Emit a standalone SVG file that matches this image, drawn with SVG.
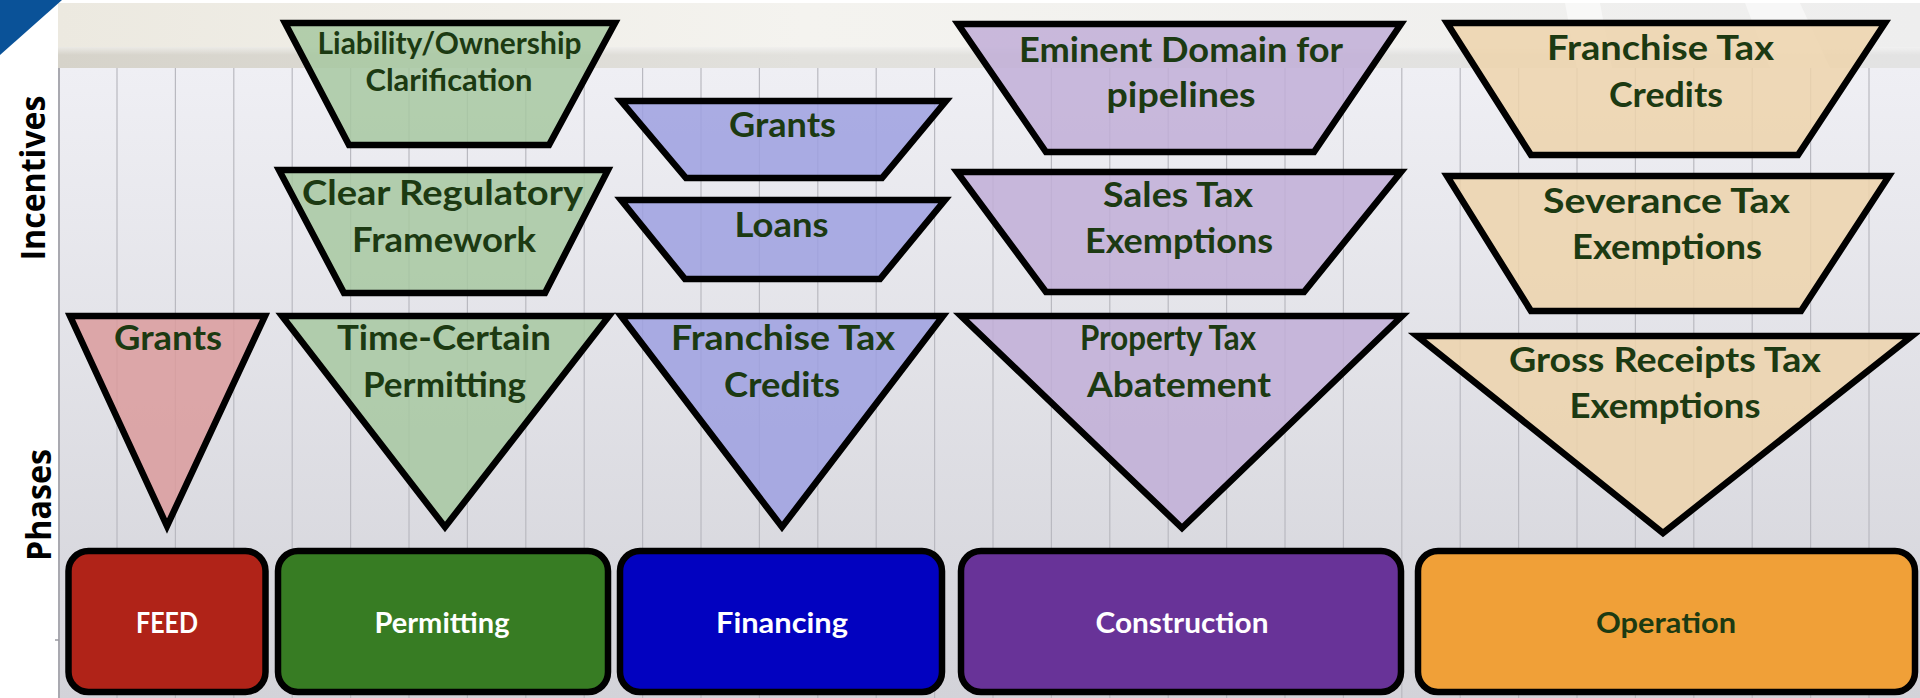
<svg xmlns="http://www.w3.org/2000/svg" width="1920" height="698" viewBox="0 0 1920 698">
  <defs>
    <linearGradient id="gridBg" x1="0" y1="0" x2="0" y2="1">
      <stop offset="0" stop-color="#efeff4"/>
      <stop offset="1" stop-color="#d3d3d9"/>
    </linearGradient>
    <linearGradient id="bandTop" x1="0" y1="0" x2="1" y2="0">
      <stop offset="0" stop-color="#ece9e0"/>
      <stop offset="0.4" stop-color="#f4f3ef"/>
      <stop offset="1" stop-color="#eeeeee"/>
    </linearGradient>
    <linearGradient id="bandStrip" x1="0" y1="0" x2="1" y2="0">
      <stop offset="0" stop-color="#d6d3ca"/>
      <stop offset="0.4" stop-color="#e2e1dd"/>
      <stop offset="1" stop-color="#e3e3e3"/>
    </linearGradient>
    <linearGradient id="stripFade" x1="0" y1="0" x2="0" y2="1">
      <stop offset="0" stop-color="#ffffff" stop-opacity="0.5"/>
      <stop offset="1" stop-color="#ffffff" stop-opacity="0"/>
    </linearGradient>
    <style>
      .grid line { stroke: #b9b9c0; stroke-width: 1.2; }
      .shape { stroke: #000; stroke-width: 6.5; stroke-linejoin: miter; fill-opacity: 0.85; }
      .phase { stroke: #000; stroke-width: 6.5; }
      .feed { fill: #db9b9c; }
      .perm { fill: #a7c8a1; }
      .fin { fill: #9da0e1; }
      .cons { fill: #c1aed7; }
      .oper { fill: #edd4ab; }
      .lbl { font-family: Lato, "Liberation Sans", sans-serif; font-weight: 700; fill: #1c3a12; text-anchor: middle; }
      .big { font-size: 35px; }
      .small { font-size: 31px; }
      .plbl { font-family: Lato, "Liberation Sans", sans-serif; font-weight: 700; font-size: 28px; fill: #ffffff; text-anchor: middle; }
      .axis { font-family: "Open Sans", "Liberation Sans", sans-serif; font-weight: 700; font-size: 34px; fill: #000; text-anchor: middle; }
    </style>
  </defs>

  <!-- page background -->
  <rect x="0" y="0" width="1920" height="698" fill="#ffffff"/>

  <!-- ledger-style backdrop -->
  <g id="backdrop">
    <rect x="58" y="68" width="1862" height="630" fill="url(#gridBg)"/>
    <rect x="58" y="3" width="1862" height="45" fill="url(#bandTop)"/>
    <rect x="58" y="47" width="1862" height="21" fill="url(#bandStrip)"/>
    <rect x="58" y="47" width="1862" height="8" fill="url(#stripFade)"/>
    <polygon points="1565,3 1600,3 1612,68 1577,68" fill="#ffffff" opacity="0.55"/>
    <polygon points="1745,3 1800,3 1830,68 1770,68" fill="#ffffff" opacity="0.5"/>
    <line x1="59" y1="68" x2="59" y2="698" stroke="#a9a9b0" stroke-width="2"/>
    <line x1="55" y1="640" x2="59" y2="640" stroke="#9a9aa0" stroke-width="1.5"/>
    <g class="grid">
      <line x1="117" y1="68" x2="117" y2="698"/>
      <line x1="175.4" y1="68" x2="175.4" y2="698"/>
      <line x1="233.8" y1="68" x2="233.8" y2="698"/>
      <line x1="292.2" y1="68" x2="292.2" y2="698"/>
      <line x1="350.6" y1="68" x2="350.6" y2="698"/>
      <line x1="409" y1="68" x2="409" y2="698"/>
      <line x1="467.4" y1="68" x2="467.4" y2="698"/>
      <line x1="525.8" y1="68" x2="525.8" y2="698"/>
      <line x1="584.2" y1="68" x2="584.2" y2="698"/>
      <line x1="642.6" y1="68" x2="642.6" y2="698"/>
      <line x1="701" y1="68" x2="701" y2="698"/>
      <line x1="759.4" y1="68" x2="759.4" y2="698"/>
      <line x1="817.8" y1="68" x2="817.8" y2="698"/>
      <line x1="876.2" y1="68" x2="876.2" y2="698"/>
      <line x1="934.6" y1="68" x2="934.6" y2="698"/>
      <line x1="993" y1="68" x2="993" y2="698"/>
      <line x1="1051.4" y1="68" x2="1051.4" y2="698"/>
      <line x1="1109.8" y1="68" x2="1109.8" y2="698"/>
      <line x1="1168.2" y1="68" x2="1168.2" y2="698"/>
      <line x1="1226.6" y1="68" x2="1226.6" y2="698"/>
      <line x1="1285" y1="68" x2="1285" y2="698"/>
      <line x1="1343.4" y1="68" x2="1343.4" y2="698"/>
      <line x1="1401.8" y1="68" x2="1401.8" y2="698"/>
      <line x1="1460.2" y1="68" x2="1460.2" y2="698"/>
      <line x1="1518.6" y1="68" x2="1518.6" y2="698"/>
      <line x1="1577" y1="68" x2="1577" y2="698"/>
      <line x1="1635.4" y1="68" x2="1635.4" y2="698"/>
      <line x1="1693.8" y1="68" x2="1693.8" y2="698"/>
      <line x1="1752.2" y1="68" x2="1752.2" y2="698"/>
      <line x1="1810.6" y1="68" x2="1810.6" y2="698"/>
      <line x1="1869" y1="68" x2="1869" y2="698"/>
    </g>
  </g>

  <!-- corner accent -->
  <polygon points="0,0 62,0 0,55" fill="#0a5298"/>

  <!-- axis titles -->
  <text class="axis" transform="translate(45,178) rotate(-90)" textLength="165" lengthAdjust="spacingAndGlyphs">Incentives</text>
  <text class="axis" transform="translate(51,505) rotate(-90)" textLength="112" lengthAdjust="spacingAndGlyphs">Phases</text>

  <!-- FEED column -->
  <g id="feed-grants">
    <polygon class="shape feed" points="70,316 265,316 167,526"/>
    <text class="lbl big" x="168" y="350" textLength="108" lengthAdjust="spacingAndGlyphs">Grants</text>
  </g>

  <!-- Permitting column -->
  <g id="perm-liability">
    <polygon class="shape perm" points="285,23 615,23 549,145 349,145"/>
    <text class="lbl small" x="449.5" y="54" textLength="264" lengthAdjust="spacingAndGlyphs">Liability/Ownership</text>
    <text class="lbl small" x="449" y="91" textLength="167" lengthAdjust="spacingAndGlyphs">Clarification</text>
  </g>
  <g id="perm-regulatory">
    <polygon class="shape perm" points="279,170 608,170 545,293 344,293"/>
    <text class="lbl big" x="442.5" y="205" textLength="281" lengthAdjust="spacingAndGlyphs">Clear Regulatory</text>
    <text class="lbl big" x="444" y="252" textLength="184" lengthAdjust="spacingAndGlyphs">Framework</text>
  </g>
  <g id="perm-time-certain">
    <polygon class="shape perm" points="282,316 609,316 445,527"/>
    <text class="lbl big" x="444" y="350" textLength="214" lengthAdjust="spacingAndGlyphs">Time-Certain</text>
    <text class="lbl big" x="444.5" y="397" textLength="163" lengthAdjust="spacingAndGlyphs">Permitting</text>
  </g>

  <!-- Financing column -->
  <g id="fin-grants">
    <polygon class="shape fin" points="621,101 946,101 882,178 686,178"/>
    <text class="lbl big" x="782.5" y="137" textLength="107" lengthAdjust="spacingAndGlyphs">Grants</text>
  </g>
  <g id="fin-loans">
    <polygon class="shape fin" points="621,200 945,200 880,279 685,279"/>
    <text class="lbl big" x="781.6" y="237" textLength="94" lengthAdjust="spacingAndGlyphs">Loans</text>
  </g>
  <g id="fin-franchise">
    <polygon class="shape fin" points="621,316 943,316 782,527"/>
    <text class="lbl big" x="783" y="350" textLength="224" lengthAdjust="spacingAndGlyphs">Franchise Tax</text>
    <text class="lbl big" x="782" y="397" textLength="116" lengthAdjust="spacingAndGlyphs">Credits</text>
  </g>

  <!-- Construction column -->
  <g id="cons-eminent">
    <polygon class="shape cons" points="958,24 1401,24 1314,152 1046,152"/>
    <text class="lbl big" x="1181" y="62" textLength="324" lengthAdjust="spacingAndGlyphs">Eminent Domain for</text>
    <text class="lbl big" x="1181" y="107" textLength="149" lengthAdjust="spacingAndGlyphs">pipelines</text>
  </g>
  <g id="cons-sales">
    <polygon class="shape cons" points="957,172 1401,172 1304,292 1046,292"/>
    <text class="lbl big" x="1178" y="207" textLength="150" lengthAdjust="spacingAndGlyphs">Sales Tax</text>
    <text class="lbl big" x="1179" y="253" textLength="188" lengthAdjust="spacingAndGlyphs">Exemptions</text>
  </g>
  <g id="cons-property">
    <polygon class="shape cons" points="961,316 1402,316 1182,528"/>
    <text class="lbl big" x="1168" y="350" textLength="176" lengthAdjust="spacingAndGlyphs">Property Tax</text>
    <text class="lbl big" x="1179" y="397" textLength="184" lengthAdjust="spacingAndGlyphs">Abatement</text>
  </g>

  <!-- Operation column -->
  <g id="oper-franchise">
    <polygon class="shape oper" points="1447,23 1885,23 1798,155 1531,155"/>
    <text class="lbl big" x="1660.5" y="60" textLength="227" lengthAdjust="spacingAndGlyphs">Franchise Tax</text>
    <text class="lbl big" x="1666" y="107" textLength="114" lengthAdjust="spacingAndGlyphs">Credits</text>
  </g>
  <g id="oper-severance">
    <polygon class="shape oper" points="1447,176 1889,176 1801,311 1531,311"/>
    <text class="lbl big" x="1666.5" y="213" textLength="247" lengthAdjust="spacingAndGlyphs">Severance Tax</text>
    <text class="lbl big" x="1667" y="259" textLength="190" lengthAdjust="spacingAndGlyphs">Exemptions</text>
  </g>
  <g id="oper-gross-receipts">
    <polygon class="shape oper" points="1417,336 1912,336 1663,533"/>
    <text class="lbl big" x="1665" y="372" textLength="312" lengthAdjust="spacingAndGlyphs">Gross Receipts Tax</text>
    <text class="lbl big" x="1665" y="418" textLength="191" lengthAdjust="spacingAndGlyphs">Exemptions</text>
  </g>

  <!-- phase boxes -->
  <g id="phase-feed">
    <rect class="phase" x="68.5" y="551" width="197" height="141" rx="20" fill="#b02318"/>
    <text class="plbl" x="167" y="633" textLength="62" lengthAdjust="spacingAndGlyphs">FEED</text>
  </g>
  <g id="phase-permitting">
    <rect class="phase" x="278" y="551" width="330" height="141" rx="20" fill="#377c23"/>
    <text class="plbl" x="442" y="633" textLength="135" lengthAdjust="spacingAndGlyphs">Permitting</text>
  </g>
  <g id="phase-financing">
    <rect class="phase" x="620" y="551" width="322" height="141" rx="20" fill="#0202c0"/>
    <text class="plbl" x="782" y="633" textLength="132" lengthAdjust="spacingAndGlyphs">Financing</text>
  </g>
  <g id="phase-construction">
    <rect class="phase" x="961" y="551" width="440" height="141" rx="20" fill="#683398"/>
    <text class="plbl" x="1182" y="633" textLength="173" lengthAdjust="spacingAndGlyphs">Construction</text>
  </g>
  <g id="phase-operation">
    <rect class="phase" x="1418" y="551" width="497" height="141" rx="20" fill="#f0a038"/>
    <text class="plbl" x="1666" y="633" textLength="140" lengthAdjust="spacingAndGlyphs" style="fill:#1c3a12">Operation</text>
  </g>

  <!-- no connectors in this chart -->
  <g id="connectors"/>
</svg>
